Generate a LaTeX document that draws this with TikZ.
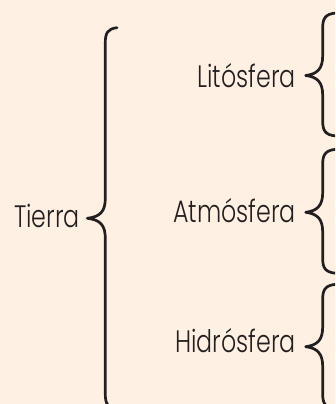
\documentclass[tikz,border=0pt]{standalone}
\usepackage{fontspec}
\setmainfont{Poppins Light}
\definecolor{bg}{HTML}{FEF0E2}
\definecolor{ink}{HTML}{231F20}
\tikzset{
  lbl/.style={inner sep=0pt, text=ink, font=\fontsize{31}{33}\selectfont},
  brace/.style={draw=ink, line width=2.7pt, line cap=round, line join=round}
}
\newcommand{\sq}[1]{\scalebox{0.765}[1]{#1}}
% \bracepath{x_line}{x_tip}{x_end}{y_top}{y_mid}{y_bot}
\newcommand{\bracepath}[6]{%
  (#3,#4) .. controls (#1+2,#4-1) and (#1,#4-6) .. (#1,#4-15)
  -- (#1,#5+20) .. controls (#1,#5+7) and (#1-5,#5+1.5) .. (#2,#5)
  .. controls (#1-5,#5-1.5) and (#1,#5-7) .. (#1,#5-20)
  -- (#1,#6+15) .. controls (#1,#6+6) and (#1+2,#6+1) .. (#3,#6)}
\begin{document}
\begin{tikzpicture}[x=1pt,y=1pt]
\useasboundingbox (0,0) rectangle (335,404);
\fill[bg] (0,0) rectangle (335,404);
\begin{scope}
\clip (0,0) rectangle (335,404);
\draw[brace] \bracepath{105.3}{87.3}{117}{376.3}{185.7}{-5};
\draw[brace] \bracepath{322.7}{305.7}{336}{391}{328.5}{268};
\draw[brace] \bracepath{322.7}{305.7}{336}{254.7}{191.7}{130.7};
\draw[brace] \bracepath{322.7}{305.7}{336}{119.7}{57.3}{-5};
\end{scope}
\node[lbl, anchor=base east] (tierra) at (80,176) {\sq{Tierra}};
\node[lbl, anchor=base east] (lito) at (296,316) {\sq{Litósfera}};
\node[lbl, anchor=base east] (atmo) at (296,181.5) {\sq{Atmósfera}};
\node[lbl, anchor=base east] (hidro) at (296,51) {\sq{Hidrósfera}};
\end{tikzpicture}
\end{document}
